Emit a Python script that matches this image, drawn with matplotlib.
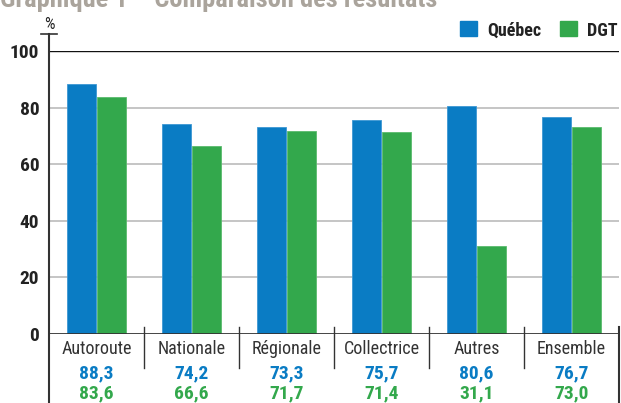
import matplotlib
matplotlib.use('Agg')
import matplotlib.pyplot as plt
import numpy as np

plt.rcParams['font.family'] = ['Roboto Condensed', 'DejaVu Sans']

categories = ['Autoroute', 'Nationale', 'Régionale', 'Collectrice', 'Autres', 'Ensemble']
quebec = [88.3, 74.2, 73.3, 75.7, 80.6, 76.7]
dgt = [83.6, 66.6, 71.7, 71.4, 31.1, 73.0]
yticks = [0, 20, 40, 60, 80, 100]

blue = '#0a7cc4'
green = '#33a84c'
dark = '#222222'
rule = '#333333'

fig = plt.figure(figsize=(6.21, 4.03), dpi=100)
ax = fig.add_axes([49/621, 1-334/403, 570/621, 283/403])

x = np.arange(len(categories)) + 0.5
w = 0.305
off = 0.163
ax.bar(x - off, quebec, w, color=blue, edgecolor='#3d97d3', linewidth=0.6, zorder=2)
ax.bar(x + off, dgt, w, color=green, edgecolor='#5bbb6d', linewidth=0.6, zorder=2)

ax.set_xlim(0, len(categories))
ax.set_ylim(0, 100)
for v in yticks[1:-1]:
    ax.axhline(v, color='#bbbbbb', lw=1.2, zorder=1)
ax.axhline(100, color='#111111', lw=1, zorder=1)
ax.axhline(0, color=rule, lw=2, zorder=3)

for s in ax.spines.values():
    s.set_visible(False)
ax.set_xticks([])
ax.set_yticks(yticks)
ax.set_yticklabels([str(v) for v in yticks], fontsize=14, fontweight='bold', color=dark)
ax.tick_params(axis='y', length=0, pad=7)

# left rule with the little cap and %, right rule
ax.plot([0, 0], [-0.245, 1.061], transform=ax.transAxes, color=rule, lw=1.5, clip_on=False)
ax.plot([-0.014, 0.014], [1.061, 1.061], transform=ax.transAxes, color=rule, lw=1.2, clip_on=False)
ax.plot([1, 1], [-0.245, 0.025], transform=ax.transAxes, color=rule, lw=1.5, clip_on=False)
ax.text(0, (334-29)/283, '%', transform=ax.transAxes, ha='center', va='baseline', fontsize=12, color=dark)

# group separators
tr = ax.get_xaxis_transform()
for i in range(1, len(categories)):
    ax.plot([i, i], [0.025, -0.12], transform=tr, color=rule, lw=1, clip_on=False)

for xi, c, q, d in zip(x, categories, quebec, dgt):
    ax.text(xi, -0.0717, c, transform=tr, ha='center', va='baseline', fontsize=13, color='#333333')
    ax.text(xi, -0.157, f'{q:.1f}'.replace('.', ','), transform=tr, ha='center', va='baseline',
            fontsize=14, fontweight='bold', color=blue)
    ax.text(xi, -0.228, f'{d:.1f}'.replace('.', ','), transform=tr, ha='center', va='baseline',
            fontsize=14, fontweight='bold', color=green)

# legend
fig.patches.append(plt.Rectangle((460/621, 1-36/403), 17/621, 15/403, color=blue, transform=fig.transFigure))
fig.text(487/621, 1-36/403, 'Québec', ha='left', va='baseline', fontsize=13, fontweight='bold', color=dark)
fig.patches.append(plt.Rectangle((560/621, 1-36/403), 17/621, 15/403, color=green, transform=fig.transFigure))
fig.text(587/621, 1-36/403, 'DGT', ha='left', va='baseline', fontsize=13, fontweight='bold', color=dark)

# title, cut at the top of the picture
fig.text(0, 1-7/403, 'Graphique 1 – Comparaison des résultats', ha='left', va='baseline',
         fontsize=19, fontweight='bold', color='#aaa49c')

fig.savefig('out.png', dpi=100)
